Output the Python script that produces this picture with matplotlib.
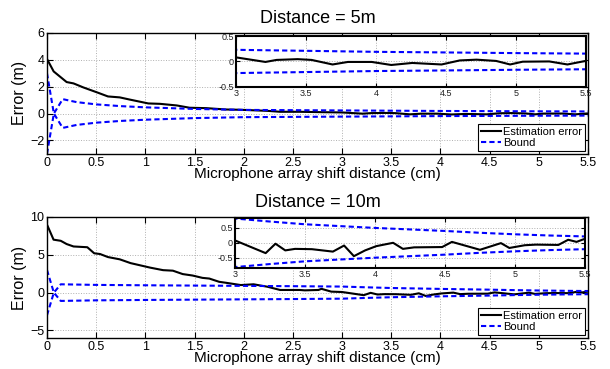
import matplotlib
matplotlib.use('Agg')
import matplotlib.pyplot as plt
import numpy as np

plt.rcParams['font.family'] = ['Liberation Sans', 'DejaVu Sans']

# bound, distance 5m (upper; lower is the mirror)
x_b5 = [0, 0.07, 0.16, 0.3, 0.5, 0.75, 1.0, 1.5, 2.0, 2.5, 3.0, 3.5, 4.0, 4.5, 5.0, 5.5]
b5 = [3.0, 0.0, 1.07, 0.85, 0.68, 0.55, 0.46, 0.34, 0.27, 0.25, 0.23, 0.21, 0.19, 0.178, 0.165, 0.155]

# estimation error, distance 5m
x_e5 = [0, 0.068, 0.2, 0.27, 0.37, 0.51, 0.62, 0.74, 0.84, 1.03, 1.15, 1.32, 1.45, 1.62, 1.82,
        1.96, 2.24, 2.37, 2.57, 2.8, 3.0, 3.21, 3.29, 3.44, 3.54, 3.69, 3.80, 3.97, 4.11, 4.26,
        4.47, 4.6, 4.72, 4.86, 4.96, 5.05, 5.24, 5.37, 5.5]
e5 = [4.06, 3.13, 2.34, 2.24, 1.94, 1.57, 1.27, 1.2, 1.04, 0.75, 0.72, 0.6, 0.43, 0.4, 0.3,
      0.28, 0.2, 0.13, 0.13, 0.1, 0.08, -0.01, 0.03, 0.045, 0.03, -0.06, -0.01, -0.01, -0.07, -0.03,
      -0.06, 0.02, 0.035, 0.01, -0.06, -0.005, 0.0, -0.06, 0.01]

# bound, distance 10m
x_b10 = [0, 0.07, 0.14, 0.5, 1.0, 1.5, 2.0, 2.5, 3.0, 3.25, 3.5, 3.75, 4.0, 4.25, 4.5, 4.75, 5.0, 5.25, 5.5]
b10 = [3.0, 0.0, 1.1, 1.02, 0.97, 0.93, 0.89, 0.85, 0.8, 0.7, 0.61, 0.55, 0.49, 0.44, 0.39, 0.33, 0.28, 0.24, 0.21]

# estimation error, distance 10m
x_e10 = [0, 0.067, 0.14, 0.2, 0.27, 0.41, 0.48, 0.54, 0.62, 0.74, 0.85, 1.05, 1.18, 1.28, 1.38,
         1.48, 1.58, 1.65, 1.75, 1.82, 1.97, 2.1, 2.24, 2.37, 2.57, 2.62, 2.76, 2.79, 2.89, 3.0,
         3.22, 3.29, 3.36, 3.43, 3.55, 3.70, 3.78, 3.85, 3.93, 4.01, 4.13, 4.20, 4.28, 4.48, 4.55,
         4.75, 4.90, 4.96, 5.07, 5.15, 5.31, 5.38, 5.44, 5.48, 5.5]
e10 = [9.0, 7.0, 6.85, 6.42, 6.1, 6.0, 5.2, 5.1, 4.7, 4.4, 3.9, 3.3, 2.97, 2.9, 2.45,
       2.26, 1.95, 1.86, 1.43, 1.3, 1.0, 1.1, 0.78, 0.35, 0.35, 0.3, 0.35, 0.5, 0.13, 0.08,
       -0.34, -0.03, -0.25, -0.2, -0.21, -0.29, -0.09, -0.44, -0.25, -0.11, 0.0, -0.2, -0.15, -0.14, 0.03,
       -0.23, -0.01, -0.17, -0.08, -0.06, -0.07, 0.1, 0.03, 0.1, 0.13]

xticks = [0, 0.5, 1, 1.5, 2, 2.5, 3, 3.5, 4, 4.5, 5, 5.5]
xtick_labels = ['0', '0.5', '1', '1.5', '2', '2.5', '3', '3.5', '4', '4.5', '5', '5.5']
inset_xticks = [3, 3.5, 4, 4.5, 5, 5.5]
inset_xlabels = ['3', '3.5', '4', '4.5', '5', '5.5']

panels = [
    dict(title='Distance = 5m', xe=x_e5, e=e5, xb=x_b5, b=b5, ylim=(-3, 6), yticks=[-2, 0, 2, 4, 6],
         main=[0.077, 0.583, 0.887, 0.328], ins=[0.387, 0.765, 0.573, 0.137],
         ins_ylim=(-0.5, 0.5), ins_yticks=[-0.5, 0, 0.5], ins_ylabels=['-0.5', '0', '0.5']),
    dict(title='Distance = 10m', xe=x_e10, e=e10, xb=x_b10, b=b10, ylim=(-6, 10), yticks=[-5, 0, 5, 10],
         main=[0.077, 0.084, 0.887, 0.328], ins=[0.385, 0.2745, 0.574, 0.135],
         ins_ylim=(-0.82, 0.82), ins_yticks=[-0.5, 0, 0.5], ins_ylabels=['-0.5', '0', '0.5']),
]

fig = plt.figure(figsize=(6.1, 3.69), dpi=100)

def draw(ax, p, lw):
    xb = np.array(p['xb'])
    b = np.array(p['b'])
    l1, = ax.plot(p['xe'], p['e'], color='black', lw=lw)
    l2, = ax.plot(xb, b, color='blue', lw=lw, dashes=(2.5, 1.5))
    ax.plot(xb, -b, color='blue', lw=lw, dashes=(2.5, 1.5))
    ax.grid(True, linestyle=':', color='#b0b0b0', lw=0.7)
    ax.tick_params(direction='in', top=True, right=True)
    return l1, l2

for p in panels:
    ax = fig.add_axes(p['main'])
    l1, l2 = draw(ax, p, 1.5)
    ax.set_xlim(0, 5.5)
    ax.set_ylim(*p['ylim'])
    ax.set_xticks(xticks)
    ax.set_xticklabels(xtick_labels)
    ax.set_yticks(p['yticks'])
    ax.tick_params(labelsize=9, length=4, pad=2)
    for s in ax.spines.values():
        s.set_linewidth(1.0)
    ax.set_title(p['title'], fontsize=13, pad=7)
    ax.set_xlabel('Microphone array shift distance (cm)', fontsize=11, labelpad=-1)
    ax.set_ylabel('Error (m)', fontsize=11.5, labelpad=2)
    leg = ax.legend([l1, l2], ['Estimation error', 'Bound'], loc='lower right', fontsize=8,
                    fancybox=False, framealpha=1, edgecolor='black', handlelength=1.8,
                    handletextpad=0.2, borderpad=0.25, labelspacing=0.1, borderaxespad=0.3)
    leg.get_frame().set_linewidth(0.8)

    ins = fig.add_axes(p['ins'])
    draw(ins, p, 1.5)
    ins.set_xlim(3, 5.5)
    ins.set_ylim(*p['ins_ylim'])
    ins.set_xticks(inset_xticks)
    ins.set_xticklabels(inset_xlabels)
    ins.set_yticks(p['ins_yticks'])
    ins.set_yticklabels(p['ins_ylabels'])
    ins.tick_params(labelsize=6.5, length=3, pad=1.5, labelcolor='#222222')
    for s in ins.spines.values():
        s.set_linewidth(1.5)

fig.savefig('out.png', dpi=100)
